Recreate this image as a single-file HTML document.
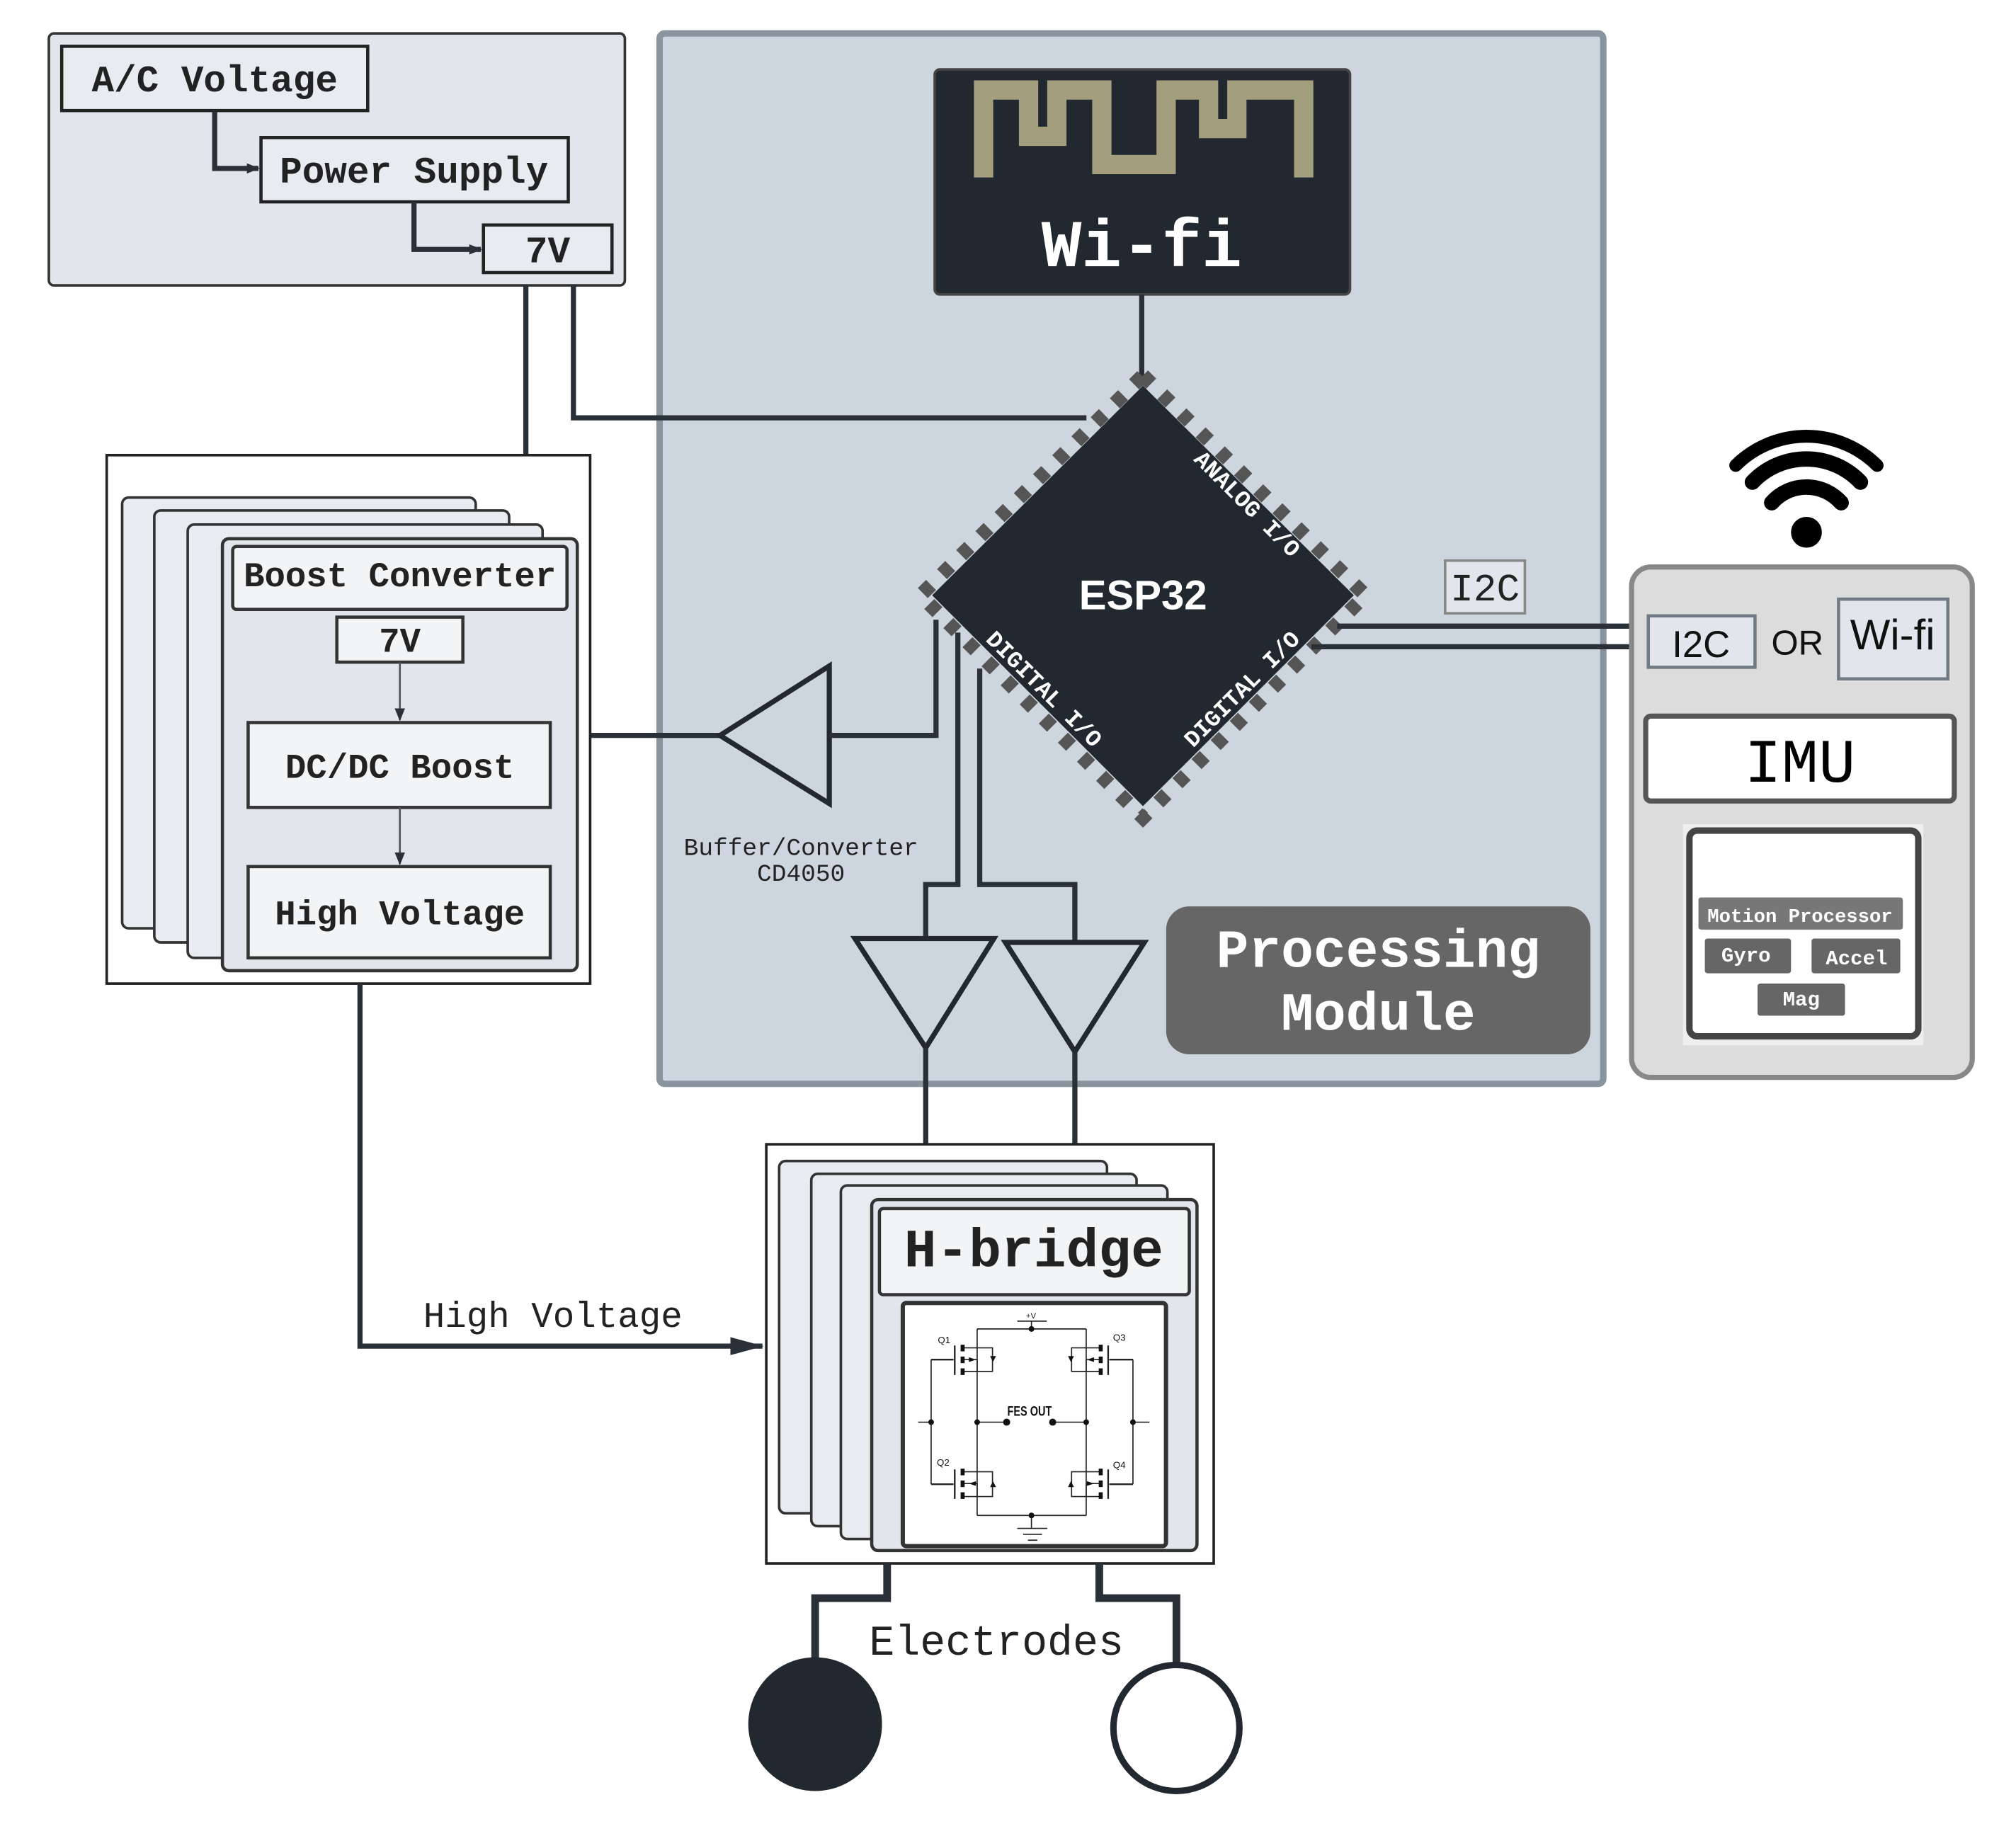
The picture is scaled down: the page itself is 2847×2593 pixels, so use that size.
<!DOCTYPE html>
<html><head><meta charset="utf-8"><style>html,body{margin:0;padding:0;background:#fff}svg{display:block}</style></head>
<body>
<svg width="2847" height="2593" viewBox="0 0 1568 1428" preserveAspectRatio="none" xmlns="http://www.w3.org/2000/svg">
<defs>
<marker id="ar" markerWidth="10" markerHeight="10" refX="9" refY="5" orient="auto" markerUnits="userSpaceOnUse"><path d="M0,1 L10,5 L0,9 z" fill="#2a3038"/></marker>
<marker id="ar2" markerWidth="26" markerHeight="16" refX="25" refY="8" orient="auto" markerUnits="userSpaceOnUse"><path d="M0,1 L26,8 L0,15 z" fill="#2a3038"/></marker>
</defs>
<g font-family="Liberation Mono, monospace">
<rect x="38" y="26" width="448" height="196" rx="4" fill="#e2e6ec" stroke="#333" stroke-width="2"/>
<rect x="48" y="36" width="238" height="50" fill="#e8ebef" stroke="#222" stroke-width="2.5"/>
<text x="167" y="71" font-size="29" font-weight="bold" text-anchor="middle" fill="#222">A/C Voltage</text>
<rect x="203" y="107" width="239" height="50" fill="#e8ebef" stroke="#222" stroke-width="2.5"/>
<text x="322" y="142" font-size="29" font-weight="bold" text-anchor="middle" fill="#222">Power Supply</text>
<rect x="376" y="175" width="100" height="37" fill="#e8ebef" stroke="#222" stroke-width="2.5"/>
<text x="426" y="204" font-size="29" font-weight="bold" text-anchor="middle" fill="#222">7V</text>
<path d="M167,86 V131 H201" fill="none" stroke="#2a3038" stroke-width="4" marker-end="url(#ar)"/>
<path d="M322,157 V194 H374" fill="none" stroke="#2a3038" stroke-width="4" marker-end="url(#ar)"/>

<rect x="513" y="26" width="734" height="817" rx="4" fill="#cdd5de" stroke="#8a949e" stroke-width="5"/>
<rect x="727" y="54" width="323" height="175" rx="4" fill="#22282f" stroke="#444" stroke-width="2"/>
<path d="M765,138 V70 H800 V106 H822 V70 H857 V128 H907 V70 H940 V100 H962 V70 H1014 V138" fill="none" stroke="#a39e7e" stroke-width="15"/>
<text x="888" y="207" font-size="52" font-weight="bold" text-anchor="middle" fill="#fff">Wi-fi</text>
<line x1="888" y1="229" x2="888" y2="300" stroke="#2a3038" stroke-width="4"/>
<line x1="409" y1="222" x2="409" y2="354" stroke="#2a3038" stroke-width="4"/>
<path d="M446,222 V325 H845" fill="none" stroke="#2a3038" stroke-width="4"/>
<polygon points="889,292 1062,463 889,636 716,463" fill="none" stroke="#555" stroke-width="11" stroke-dasharray="9 12"/>
<polygon points="889,300 1053,463 889,627 725,463" fill="#22282f"/>
<text x="889" y="474" font-family="Liberation Sans, sans-serif" font-size="32" font-weight="bold" text-anchor="middle" fill="#fff">ESP32</text>
<text transform="translate(966,396) rotate(45)" font-size="18" font-weight="bold" text-anchor="middle" fill="#fff">ANALOG I/O</text>
<text transform="translate(970,540) rotate(-45)" font-size="18" font-weight="bold" text-anchor="middle" fill="#fff">DIGITAL I/O</text>
<text transform="translate(808,540) rotate(45)" font-size="18" font-weight="bold" text-anchor="middle" fill="#fff">DIGITAL I/O</text>
<line x1="459" y1="572" x2="560" y2="572" stroke="#2a3038" stroke-width="4"/>
<polygon points="560,572 645,518 645,625" fill="none" stroke="#22282f" stroke-width="4"/>
<path d="M645,572 H728 V482" fill="none" stroke="#2a3038" stroke-width="4"/>
<text x="623" y="665" font-size="19" text-anchor="middle" fill="#222">Buffer/Converter</text>
<text x="623" y="685" font-size="19" text-anchor="middle" fill="#222">CD4050</text>
<path d="M745,492 V688 H720 V730" fill="none" stroke="#2a3038" stroke-width="4"/>
<path d="M762,520 V688 H836 V733" fill="none" stroke="#2a3038" stroke-width="4"/>
<polygon points="665,730 773,730 720,815" fill="none" stroke="#22282f" stroke-width="4"/>
<polygon points="782,733 890,733 836,818" fill="none" stroke="#22282f" stroke-width="4"/>
<line x1="720" y1="815" x2="720" y2="890" stroke="#2a3038" stroke-width="4"/>
<line x1="836" y1="818" x2="836" y2="890" stroke="#2a3038" stroke-width="4"/>
<rect x="907" y="705" width="330" height="115" rx="18" fill="#666"/>
<text x="1072" y="752" font-size="42" font-weight="bold" text-anchor="middle" fill="#fff">Processing</text>
<text x="1072" y="801" font-size="42" font-weight="bold" text-anchor="middle" fill="#fff">Module</text>
<rect x="1124" y="436" width="62" height="41" fill="#e2e6ec" stroke="#888" stroke-width="2"/>
<text x="1155" y="467" font-size="30" text-anchor="middle" fill="#222">I2C</text>
<line x1="1040" y1="487" x2="1272" y2="487" stroke="#2a3038" stroke-width="4"/>
<line x1="1020" y1="503" x2="1272" y2="503" stroke="#2a3038" stroke-width="4"/>

<rect x="1269" y="441" width="265" height="397" rx="15" fill="#dcdcdc" stroke="#888" stroke-width="4"/>
<rect x="1282" y="479" width="83" height="40" fill="#e2e6ec" stroke="#707a84" stroke-width="2.5"/>
<text x="1323" y="511" font-family="Liberation Sans, sans-serif" font-size="29" text-anchor="middle" fill="#111">I2C</text>
<text x="1398" y="509" font-family="Liberation Sans, sans-serif" font-size="27" text-anchor="middle" fill="#111">OR</text>
<rect x="1430" y="466" width="85" height="62" fill="#e2e6ec" stroke="#707a84" stroke-width="2.5"/>
<text x="1472" y="505" font-family="Liberation Sans, sans-serif" font-size="33" text-anchor="middle" fill="#111">Wi-fi</text>
<rect x="1280" y="557" width="240" height="66" rx="4" fill="#fff" stroke="#555" stroke-width="4"/>
<text x="1400" y="608" font-size="48" text-anchor="middle" fill="#000">IMU</text>
<rect x="1309" y="641" width="187" height="172" fill="#eee"/>
<rect x="1314" y="646" width="178" height="160" rx="6" fill="#fff" stroke="#444" stroke-width="5"/>
<rect x="1321" y="698" width="159" height="25" rx="2" fill="#777"/>
<text x="1400" y="717" font-size="15" font-weight="bold" text-anchor="middle" fill="#fff">Motion Processor</text>
<rect x="1326" y="730" width="67" height="27" rx="2" fill="#666"/>
<text x="1358" y="748" font-size="16" font-weight="bold" text-anchor="middle" fill="#fff">Gyro</text>
<rect x="1409" y="730" width="69" height="27" rx="2" fill="#666"/>
<text x="1444" y="750" font-size="16" font-weight="bold" text-anchor="middle" fill="#fff">Accel</text>
<rect x="1367" y="765" width="68" height="25" rx="2" fill="#666"/>
<text x="1401" y="782" font-size="16" font-weight="bold" text-anchor="middle" fill="#fff">Mag</text>
<circle cx="1405" cy="414" r="12" fill="#000"/>
<path d="M1378,391 A36,36 0 0 1 1432,391" fill="none" stroke="#000" stroke-width="12" stroke-linecap="round"/>
<path d="M1363,375 A58,58 0 0 1 1447,375" fill="none" stroke="#000" stroke-width="12" stroke-linecap="round"/>
<path d="M1350,362 A78,78 0 0 1 1460,362" fill="none" stroke="#000" stroke-width="10" stroke-linecap="round"/>

<rect x="83" y="354" width="376" height="411" fill="#fff" stroke="#222" stroke-width="2"/>
<rect x="95" y="387" width="275" height="335" rx="5" fill="#e8ebef" stroke="#333" stroke-width="2"/>
<rect x="120" y="397" width="276" height="336" rx="5" fill="#e8ebef" stroke="#333" stroke-width="2"/>
<rect x="146" y="408" width="276" height="337" rx="5" fill="#e8ebef" stroke="#333" stroke-width="2"/>
<rect x="173" y="419" width="276" height="336" rx="5" fill="#e2e6ec" stroke="#333" stroke-width="2.5"/>
<rect x="181" y="425" width="260" height="49" rx="3" fill="#f2f4f6" stroke="#333" stroke-width="2.5"/>
<text x="311" y="456" font-size="27" font-weight="bold" text-anchor="middle" fill="#222">Boost Converter</text>
<rect x="262" y="480" width="98" height="35" fill="#f2f4f6" stroke="#333" stroke-width="2.5"/>
<text x="311" y="507" font-size="27" font-weight="bold" text-anchor="middle" fill="#222">7V</text>
<line x1="311" y1="515" x2="311" y2="560" stroke="#555" stroke-width="1.5" marker-end="url(#ar)"/>
<rect x="193" y="562" width="235" height="66" fill="#f2f4f6" stroke="#333" stroke-width="2.5"/>
<text x="311" y="605" font-size="27" font-weight="bold" text-anchor="middle" fill="#222">DC/DC Boost</text>
<line x1="311" y1="628" x2="311" y2="672" stroke="#555" stroke-width="1.5" marker-end="url(#ar)"/>
<rect x="193" y="674" width="235" height="71" fill="#f2f4f6" stroke="#333" stroke-width="2.5"/>
<text x="311" y="719" font-size="27" font-weight="bold" text-anchor="middle" fill="#222">High Voltage</text>

<path d="M280,765 V1047 H593" fill="none" stroke="#2a3038" stroke-width="4" marker-end="url(#ar2)"/>
<text x="430" y="1032" font-size="28" text-anchor="middle" fill="#222">High Voltage</text>

<rect x="596" y="890" width="348" height="326" fill="#fff" stroke="#222" stroke-width="2"/>
<rect x="606" y="903" width="255" height="274" rx="5" fill="#e8ebef" stroke="#333" stroke-width="2"/>
<rect x="631" y="913" width="253" height="274" rx="5" fill="#e8ebef" stroke="#333" stroke-width="2"/>
<rect x="654" y="922" width="254" height="275" rx="5" fill="#e8ebef" stroke="#333" stroke-width="2"/>
<rect x="678" y="933" width="253" height="273" rx="5" fill="#e2e6ec" stroke="#333" stroke-width="2.5"/>
<rect x="684" y="940" width="241" height="67" rx="3" fill="#f2f4f6" stroke="#333" stroke-width="2.5"/>
<text x="804" y="985" font-size="42" font-weight="bold" text-anchor="middle" fill="#222">H-bridge</text>
<g transform="translate(688.4,1002.4) scale(0.1836)" stroke="#222" fill="none" stroke-width="5">
<rect x="75" y="60" width="1115" height="1030" rx="15" fill="#fff" stroke="#333" stroke-width="18"/>
<path d="M390,170 H852 M390,170 V960 M852,170 V960 M390,960 H852 M620,960 V1015 M560,1015 H687 M585,1040 H665 M605,1065 H645 M560,137 H685 M620,137 V170"/>
<path d="M140,565 H195 M390,565 H515 M710,565 H852 M1050,565 H1120 M195,300 V828 M1050,300 V828"/>
<path d="M195,300 H290 M295,240 V365 M195,828 H290 M295,765 V890 M1050,300 H950 M945,240 V365 M1050,828 H950 M945,765 V890" stroke-width="7"/>
<path d="M335,250 H390 M335,350 H390 M335,300 H390 V350 M390,250 H455 V350 H390 M335,775 H455 V880 H335 M390,825 V880 M335,825 H390 M910,250 H790 V350 H910 M852,300 V350 M852,300 H910 M910,775 H790 V880 H910 M852,825 V880 M852,825 H910"/>
<g fill="#111" stroke="none">
<rect x="320" y="237" width="17" height="28"/><rect x="320" y="287" width="17" height="28"/><rect x="320" y="337" width="17" height="28"/>
<rect x="320" y="762" width="17" height="28"/><rect x="320" y="812" width="17" height="28"/><rect x="320" y="862" width="17" height="28"/>
<rect x="905" y="237" width="17" height="28"/><rect x="905" y="287" width="17" height="28"/><rect x="905" y="337" width="17" height="28"/>
<rect x="905" y="762" width="17" height="28"/><rect x="905" y="812" width="17" height="28"/><rect x="905" y="862" width="17" height="28"/>
<circle cx="620" cy="170" r="12"/><circle cx="620" cy="960" r="12"/><circle cx="195" cy="565" r="12"/><circle cx="390" cy="565" r="12"/><circle cx="515" cy="565" r="15"/><circle cx="710" cy="565" r="15"/><circle cx="852" cy="565" r="12"/><circle cx="1050" cy="565" r="12"/>
<path d="M445,285 H470 L457,310 z"/><path d="M445,840 H470 L457,815 z"/><path d="M775,285 H800 L787,310 z"/><path d="M775,840 H800 L787,815 z"/>
<path d="M355,290 L385,300 L355,310 z"/><path d="M385,815 L355,825 L385,835 z"/><path d="M885,290 L855,300 L885,310 z"/><path d="M855,815 L885,825 L855,835 z"/>
<text x="250" y="230" font-family="Liberation Sans, sans-serif" font-size="40" text-anchor="middle">Q1</text>
<text x="992" y="220" font-family="Liberation Sans, sans-serif" font-size="40" text-anchor="middle">Q3</text>
<text x="246" y="750" font-family="Liberation Sans, sans-serif" font-size="40" text-anchor="middle">Q2</text>
<text x="992" y="760" font-family="Liberation Sans, sans-serif" font-size="40" text-anchor="middle">Q4</text>
<text x="618" y="125" font-family="Liberation Sans, sans-serif" font-size="34" text-anchor="middle">+V</text>
<text x="612" y="538" font-family="Liberation Sans, sans-serif" font-size="58" font-weight="bold" text-anchor="middle" transform="translate(612,0) scale(0.75,1) translate(-612,0)">FES OUT</text>
</g>
</g>

<path d="M690,1216 V1243 H634 V1292" fill="none" stroke="#2a3038" stroke-width="6"/>
<path d="M855,1216 V1243 H915 V1296" fill="none" stroke="#2a3038" stroke-width="6"/>
<circle cx="634" cy="1341" r="52" fill="#22282f"/>
<circle cx="915" cy="1344" r="49" fill="#fff" stroke="#22282f" stroke-width="5"/>
<text x="775" y="1287" font-size="33" text-anchor="middle" fill="#222">Electrodes</text>
</g>
</svg>
</body></html>
